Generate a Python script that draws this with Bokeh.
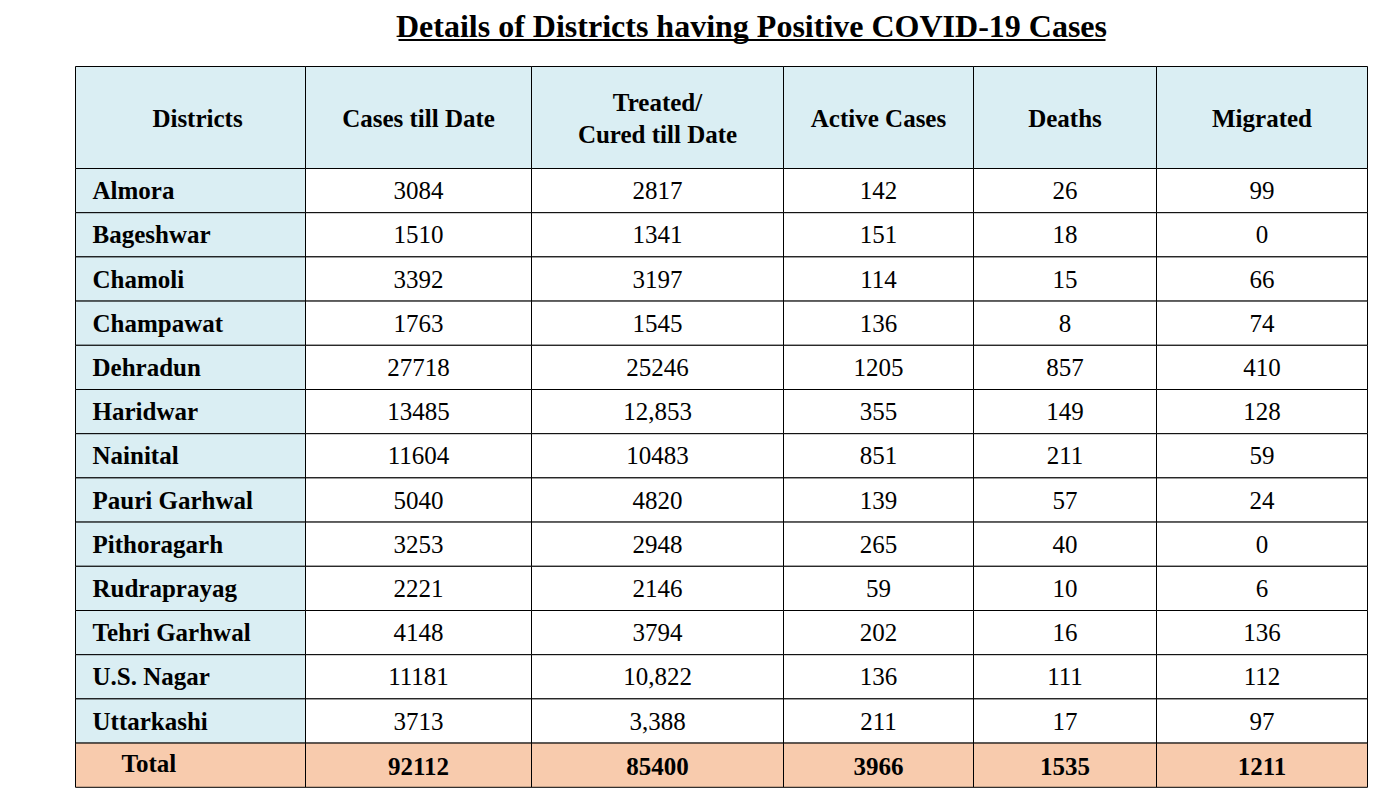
from bokeh.plotting import figure
from bokeh.models import Range1d
from bokeh.core.properties import value
from bokeh.embed import file_html
from bokeh.resources import INLINE

title = "Details of Districts having Positive COVID-19 Cases"
headers = ["Districts", "Cases till Date", "Treated/\nCured till Date", "Active Cases", "Deaths", "Migrated"]
districts = ["Almora", "Bageshwar", "Chamoli", "Champawat", "Dehradun", "Haridwar", "Nainital",
             "Pauri Garhwal", "Pithoragarh", "Rudraprayag", "Tehri Garhwal", "U.S. Nagar", "Uttarkashi"]
cases = ["3084", "1510", "3392", "1763", "27718", "13485", "11604", "5040", "3253", "2221", "4148", "11181", "3713"]
cured = ["2817", "1341", "3197", "1545", "25246", "12,853", "10483", "4820", "2948", "2146", "3794", "10,822", "3,388"]
active = ["142", "151", "114", "136", "1205", "355", "851", "139", "265", "59", "202", "136", "211"]
deaths = ["26", "18", "15", "8", "857", "149", "211", "57", "40", "10", "16", "111", "17"]
migrated = ["99", "0", "66", "74", "410", "128", "59", "24", "0", "6", "136", "112", "97"]
total_label = "Total"
totals = ["92112", "85400", "3966", "1535", "1211"]

# layout (page pixel coordinates)
W, H = 1375, 790
col_edges = [75, 305, 531, 783, 973, 1156, 1367]
header_top, header_bot = 66, 168
row_h = 44.2
BLUE = "#DAEEF3"
PEACH = "#F8CBAD"
FONT = value("Liberation Serif")
FS = "25px"

p = figure(width=W, height=H, output_backend="svg", toolbar_location=None,
           x_range=Range1d(0, W), y_range=Range1d(H, 0),
           x_axis_location=None, y_axis_location=None, min_border=0)
p.grid.visible = False
p.outline_line_color = None
p.background_fill_color = "white"
p.border_fill_color = "white"

# cells
L, R, T, B, C = [], [], [], [], []
ncol = len(col_edges) - 1
for j in range(ncol):
    L.append(col_edges[j]); R.append(col_edges[j + 1]); T.append(header_top); B.append(header_bot); C.append(BLUE)
n = len(districts)
for i in range(n + 1):
    top = header_bot + i * row_h
    for j in range(ncol):
        L.append(col_edges[j]); R.append(col_edges[j + 1]); T.append(top); B.append(top + row_h)
        if i == n:
            C.append(PEACH)
        elif j == 0:
            C.append(BLUE)
        else:
            C.append("white")
p.quad(left=L, right=R, top=T, bottom=B, fill_color=C, line_color="black", line_width=1)

# header text
hx, hy, ht = [], [], []
for j, h in enumerate(headers):
    hx.append((col_edges[j] + col_edges[j + 1]) / 2)
    hy.append((header_top + header_bot) / 2 + 1)
    ht.append(h)
hx[0] = 197
p.text(x=hx, y=hy, text=ht, text_font=FONT, text_font_style="bold", text_font_size=FS,
       text_align="center", text_baseline="middle", text_color="black", text_line_height=1.2)

# district names
dy = [header_bot + (i + 0.5) * row_h for i in range(n)]
p.text(x=[92] * n, y=dy, text=districts, text_font=FONT, text_font_style="bold", text_font_size=FS,
       text_align="left", text_baseline="middle", text_color="black")

# numeric columns
cols = [cases, cured, active, deaths, migrated]
nx, ny, nt = [], [], []
for j, col in enumerate(cols):
    cx = (col_edges[j + 1] + col_edges[j + 2]) / 2
    for i, v in enumerate(col):
        nx.append(cx); ny.append(dy[i]); nt.append(v)
p.text(x=nx, y=ny, text=nt, text_font=FONT, text_font_size=FS,
       text_align="center", text_baseline="middle", text_color="black")

# total row
ty = header_bot + (n + 0.5) * row_h
p.text(x=[121], y=[ty - 2], text=[total_label], text_font=FONT, text_font_style="bold", text_font_size=FS,
       text_align="left", text_baseline="middle", text_color="black")
tx = [(col_edges[j + 1] + col_edges[j + 2]) / 2 for j in range(ncol - 1)]
p.text(x=tx, y=[ty + 1] * len(tx), text=totals, text_font=FONT, text_font_style="bold", text_font_size=FS,
       text_align="center", text_baseline="middle", text_color="black")

# title with underline
p.text(x=[751], y=[25], text=[title], text_font=FONT, text_font_style="bold", text_font_size="32px",
       text_align="center", text_baseline="middle", text_color="black")
p.segment(x0=[398], y0=[39.5], x1=[1105], y1=[39.5], line_color="black", line_width=2)

open("out.html", "w").write(file_html(p, INLINE))
